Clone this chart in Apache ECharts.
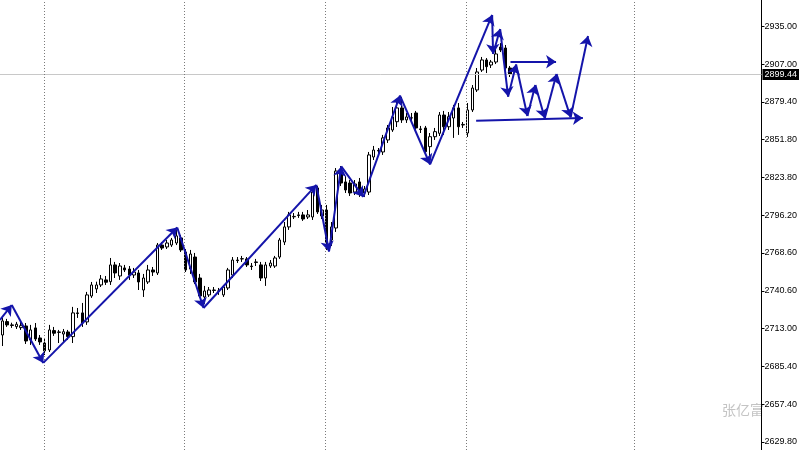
<!DOCTYPE html>
<html>
<head>
<meta charset="utf-8">
<script src="https://cdn.jsdelivr.net/npm/echarts@6/dist/echarts.min.js"></script>
<style>
html,body{margin:0;padding:0;background:#fff;}
#chart{width:800px;height:450px;}
</style>
</head>
<body>
<div id="chart"></div>
<script>
// ---- data ----
// candles: [open, close, low, high]
const candles = [
[2708.3,2718.6,2700.2,2720.8],[2718.1,2715.7,2714.2,2720.1],[2715.7,2715.3,2713.5,2717.3],[2714.4,2716.2,2712.7,2717.9],
[2713.7,2715.1,2712.0,2717.9],[2714.9,2703.9,2701.7,2717.1],[2704.6,2712.0,2701.0,2715.7],[2713.5,2705.4,2703.9,2717.1],
[2706.1,2703.2,2701.0,2708.3],[2702.4,2696.6,2693.6,2706.1],[2697.3,2712.0,2695.8,2715.7],[2711.5,2709.6,2707.6,2714.2],
[2710.2,2710.5,2702.4,2712.0],[2709.0,2710.7,2703.2,2712.7],[2710.5,2707.1,2704.6,2712.0],[2707.1,2724.5,2702.4,2728.9],
[2724.5,2724.1,2720.8,2728.1],[2724.5,2717.1,2714.2,2731.8],[2717.9,2737.7,2715.7,2739.9],[2736.9,2745.0,2735.5,2747.2],
[2742.1,2745.0,2739.1,2747.4],[2745.0,2749.4,2743.5,2752.3],[2748.7,2747.0,2745.0,2751.6],[2747.4,2759.7,2745.0,2764.8],
[2759.7,2753.8,2750.1,2761.9],[2751.6,2758.9,2748.7,2761.1],[2757.5,2756.0,2754.5,2759.7],[2756.7,2752.3,2748.7,2758.9],
[2752.3,2754.5,2750.1,2757.5],[2753.8,2747.2,2741.3,2756.0],[2741.3,2750.1,2736.2,2753.1],[2747.2,2756.0,2745.7,2759.7],
[2756.0,2754.5,2751.6,2758.2],[2753.8,2774.3,2752.3,2775.8],[2774.3,2772.1,2770.7,2776.5],[2772.9,2775.8,2771.4,2778.0],
[2774.3,2778.0,2772.9,2779.5],[2775.8,2781.0,2774.3,2785.4],[2779.5,2770.7,2769.2,2781.7],[2769.2,2756.0,2754.5,2771.4],
[2756.7,2767.7,2753.1,2770.7],[2765.5,2747.2,2745.7,2768.5],[2750.1,2736.9,2735.5,2753.1],[2736.2,2740.6,2731.1,2744.3],
[2737.7,2741.3,2736.2,2743.5],[2741.3,2741.0,2739.1,2743.5],[2740.6,2740.5,2737.7,2742.8],[2737.7,2743.5,2736.2,2745.0],
[2742.8,2756.0,2741.3,2757.5],[2752.3,2763.3,2750.1,2765.5],[2763.3,2762.9,2761.1,2765.5],[2764.1,2764.3,2761.9,2766.3],
[2764.1,2759.7,2758.2,2765.5],[2758.9,2758.5,2756.0,2761.1],[2761.9,2761.5,2758.9,2764.1],[2759.7,2750.1,2747.9,2761.9],
[2750.1,2759.7,2744.3,2761.9],[2758.9,2761.1,2757.5,2763.3],[2758.9,2764.8,2757.5,2766.3],[2765.5,2778.0,2764.1,2779.5],
[2776.5,2787.6,2774.3,2791.2],[2787.6,2796.4,2785.4,2798.6],[2795.0,2795.3,2793.4,2797.8],[2796.4,2796.0,2794.2,2798.6],
[2796.4,2793.4,2792.0,2798.6],[2794.9,2796.4,2793.4,2800.0],[2794.9,2813.2,2792.7,2816.2],[2816.2,2798.6,2797.1,2817.6],
[2795.6,2800.0,2793.4,2803.7],[2800.0,2776.5,2770.7,2803.7],[2778.0,2787.6,2773.6,2791.2],[2786.8,2828.6,2783.9,2830.8],
[2827.9,2819.8,2817.6,2832.3],[2820.6,2814.7,2812.5,2825.0],[2819.8,2812.5,2810.3,2822.0],[2813.2,2819.1,2811.0,2822.0],
[2820.6,2812.5,2809.6,2823.5],[2812.5,2815.4,2809.6,2817.6],[2813.2,2840.4,2811.0,2842.6],[2838.9,2844.0,2836.7,2847.0],
[2843.7,2843.3,2841.8,2845.5],[2842.6,2852.9,2840.4,2855.1],[2851.4,2860.2,2849.2,2862.4],[2858.7,2868.3,2857.3,2875.6],
[2864.8,2874.9,2860.9,2880.7],[2874.9,2866.1,2863.9,2882.9],[2866.1,2868.3,2863.9,2871.2],[2867.5,2867.7,2863.9,2871.2],
[2871.2,2860.2,2858.7,2872.7],[2859.5,2859.1,2856.5,2861.7],[2860.2,2842.8,2841.8,2861.7],[2846.5,2853.8,2834.5,2856.5],
[2853.8,2857.5,2851.4,2860.2],[2856.3,2869.7,2854.3,2871.9],[2869.7,2861.1,2855.1,2872.7],[2861.1,2868.5,2858.7,2871.9],
[2867.5,2874.9,2852.9,2877.1],[2874.9,2861.1,2855.1,2878.5],[2862.4,2862.8,2860.2,2864.6],[2856.5,2873.4,2853.6,2878.5],
[2873.4,2889.5,2871.9,2891.7],[2888.1,2901.3,2886.6,2904.2],[2902.7,2910.1,2901.3,2912.3],[2910.1,2905.2,2900.5,2911.5],
[2906.4,2908.6,2904.2,2910.1],[2908.6,2914.5,2907.1,2918.9],[2919.6,2917.4,2915.9,2922.5],[2918.9,2904.2,2902.7,2921.1],
[2904.2,2899.44,2897.6,2905.7]
];
const slotCount = 162; // bar slots on the time axis (incl. empty right shift)
const categories = Array.from({length: slotCount}, (_, i) => String(i));

const tickLabels = ['2629.80','2657.40','2685.40','2713.00','2740.60','2768.60','2796.20','2823.80','2851.80','2879.40','2907.00','2935.00'];
const lastPrice = 2899.44;
const priceMin = 2623.9, priceMax = 2954.1;

// zigzag drawing (bar index, price)
const zigzagPoints = [
[-0.5,2719.3],[2.0,2730.3],[8.7,2687.8],[37.2,2787.2],[42.8,2728.1],[66.8,2818.4],[69.5,2769.6],
[72.1,2832.0],[76.8,2809.6],[84.6,2884.0],[91.0,2833.4],[104.2,2943.1],[104.4,2914.5],[105.9,2932.8],
[107.6,2883.2],[109.3,2906.8],[111.7,2869.0],[113.4,2891.7],[115.4,2867.3],[117.9,2899.8],[120.9,2868.0],[124.6,2927.7]
];
const upperArrow = [[108.1,2908.8],[117.8,2908.8]];
const lowerArrow = [[100.8,2865.5],[123.5,2867.5]];
const separators = [8.84, 38.78, 68.71, 98.59, 134.53];

// ---- chart ----
const blue = '#1414aa';
const segs = [];
for (let i = 0; i < zigzagPoints.length - 1; i++) segs.push({coords: [zigzagPoints[i], zigzagPoints[i+1]]});
segs.push({coords: upperArrow});
segs.push({coords: lowerArrow});

const chart = echarts.init(document.getElementById('chart'), null, {renderer: 'canvas'});
chart.setOption({
  animation: false,
  backgroundColor: '#fff',
  grid: {left: 0, right: 37, top: 0, bottom: 0, containLabel: false},
  xAxis: [
    {type: 'category', data: categories, boundaryGap: true, show: false},
    {type: 'value', min: -0.5, max: slotCount - 0.5, show: false}
  ],
  yAxis: [{
    type: 'value', position: 'right', min: priceMin, max: priceMax, scale: true,
    axisLine: {show: true, onZero: false, lineStyle: {color: '#000', width: 1}},
    axisTick: {show: true, length: 3, lineStyle: {color: '#000'}, customValues: tickLabels.map(Number)},
    axisLabel: {show: true, margin: 3, color: '#000', fontSize: 9, fontFamily: 'Liberation Sans, Arial, sans-serif',
      customValues: tickLabels.map(Number), formatter: v => v.toFixed(2)},
    splitLine: {show: false}
  }],
  graphic: [{
    type: 'text', left: 722, top: 403, z: -1,
    style: {text: '张亿富', fill: '#c4c4c4', font: '14px "Noto Sans CJK SC"'}
  }],
  series: [
    {
      type: 'candlestick', xAxisIndex: 0, yAxisIndex: 0, data: candles, barWidth: 3,
      itemStyle: {color: '#fff', color0: '#000', borderColor: '#000', borderColor0: '#000', borderWidth: 1},
      markLine: {
        silent: true, symbol: 'none', animation: false,
        lineStyle: {color: '#c8c8c8', type: 'solid', width: 1},
        label: {position: 'end', distance: 1, formatter: () => lastPrice.toFixed(2), color: '#fff', backgroundColor: '#000',
          padding: [1, 2, 1, 2], fontSize: 9, fontFamily: 'Liberation Sans, Arial, sans-serif'},
        data: [{yAxis: lastPrice}]
      },
      z: 2
    },
    {
      type: 'scatter', xAxisIndex: 1, yAxisIndex: 0, data: [[0, priceMin - 10]], symbolSize: 0, silent: true,
      markLine: {
        silent: true, symbol: 'none', animation: false,
        lineStyle: {color: '#7a7a7a', type: [1, 2], width: 1},
        label: {show: false},
        data: separators.map(s => ({xAxis: s}))
      },
      z: 1
    },
    {
      type: 'lines', coordinateSystem: 'cartesian2d', xAxisIndex: 1, yAxisIndex: 0,
      symbol: ['none', 'arrow'], symbolSize: [0, 10],
      lineStyle: {color: blue, width: 2, opacity: 1, curveness: 0},
      itemStyle: {color: blue},
      data: segs, z: 5
    }
  ]
});
</script>
</body>
</html>
